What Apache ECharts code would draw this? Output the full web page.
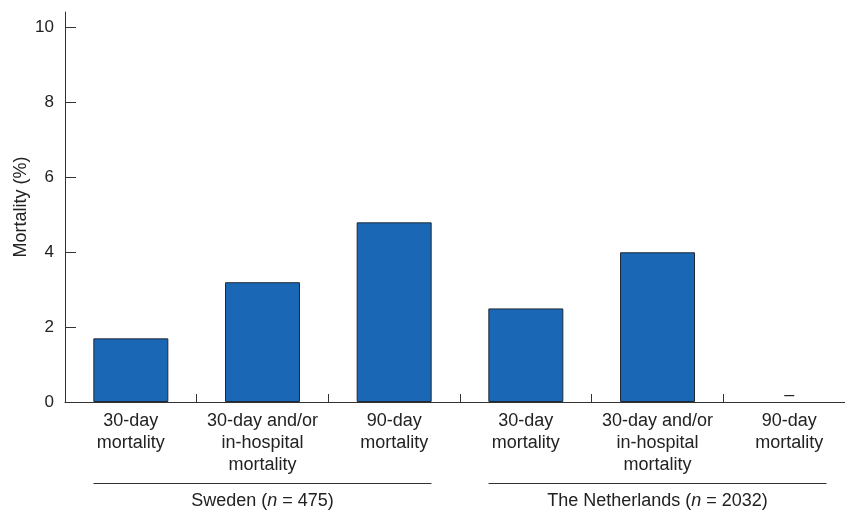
<!DOCTYPE html>
<html><head><meta charset="utf-8">
<script src="https://cdn.jsdelivr.net/npm/echarts@6/dist/echarts.min.js"></script>
<style>html,body{margin:0;padding:0;background:#fff;overflow:hidden}
#wrap{width:845px;height:510px;overflow:hidden;position:relative}
#c{width:855px;height:510px;position:absolute;left:0;top:0}</style>
</head><body><div id="wrap"><div id="c"></div></div>
<script>
var categories = ['30-day\nmortality', '30-day and/or\nin-hospital\nmortality', '90-day\nmortality',
                  '30-day\nmortality', '30-day and/or\nin-hospital\nmortality', '90-day\nmortality'];
var mortality = [1.7, 3.2, 4.8, 2.5, 4.0, 0];
var barNotes = ['', '', '', '', '', '\u2013'];
var groups = [{name: 'Sweden', n: 475}, {name: 'The Netherlands', n: 2032}];
var yTicks = [0, 2, 4, 6, 8, 10];
var yAxisName = 'Mortality (%)';

var font = 'Liberation Sans, Arial, Helvetica, sans-serif';
var ink = '#222';
var chart = echarts.init(document.getElementById('c'));
chart.setOption({
  animation: false,
  grid: {left: 65, right: 0, top: 12, bottom: 105},
  xAxis: [{
    type: 'category', data: categories, position: 'bottom',
    axisLine: {lineStyle: {color: '#333', width: 1}},
    axisTick: {show: true, interval: 0, inside: true, length: 8, lineStyle: {color: '#333', width: 1}},
    axisLabel: {color: ink, fontFamily: font, fontSize: 18, lineHeight: 22, margin: 8, interval: 0}
  }, {
    type: 'category', data: groups.map(function (g) { return g.name; }), position: 'bottom',
    offset: 0, axisLine: {show: false}, axisTick: {show: false},
    axisLabel: {
      margin: 81, interval: 0,
      formatter: function (v, i) {
        return '{l|}\n{t|' + v + ' (}{i|n}{t| = ' + groups[i].n + ')}';
      },
      rich: {
        l: {width: 338, height: 1, backgroundColor: '#333', lineHeight: 1},
        t: {color: ink, fontFamily: font, fontSize: 18, lineHeight: 30, padding: [4, 0, 0, 0]},
        i: {color: ink, fontFamily: font, fontSize: 18, fontStyle: 'italic', lineHeight: 30, padding: [4, 0, 0, 0]}
      }
    }
  }],
  yAxis: {
    type: 'value', min: 0, max: 10.42,
    name: yAxisName, nameLocation: 'middle', nameGap: 35, nameMoveOverlap: false,
    nameTextStyle: {color: ink, fontFamily: font, fontSize: 18},
    axisLine: {show: true, lineStyle: {color: '#333', width: 1}},
    axisTick: {show: true, inside: true, length: 11, customValues: yTicks, lineStyle: {color: '#333'}},
    axisLabel: {customValues: yTicks, color: ink, fontFamily: font, fontSize: 17, margin: 11},
    splitLine: {show: false}
  },
  series: [{
    type: 'bar', xAxisIndex: 0, barWidth: 75,
    data: mortality.map(function (v) {
      return v === 0 ? {value: v, itemStyle: {borderWidth: 0, color: 'rgba(0,0,0,0)'}} : v;
    }),
    itemStyle: {color: '#1a68b5', borderColor: '#1f2a36', borderWidth: 1},
    label: {
      show: true, position: 'top', distance: -2,
      formatter: function (p) { return barNotes[p.dataIndex]; },
      color: ink, fontFamily: font, fontSize: 18
    }
  }]
});
</script></body></html>
